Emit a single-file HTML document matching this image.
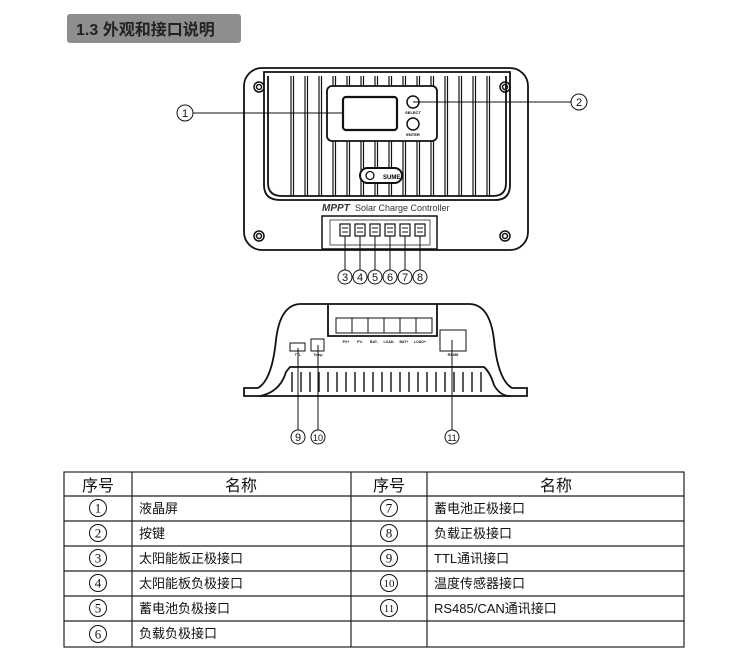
<!DOCTYPE html>
<html><head><meta charset="utf-8"><style>
html,body{margin:0;padding:0;background:#fff;width:749px;height:665px;overflow:hidden}
svg{display:block}
text{font-family:"Liberation Sans","Noto Sans CJK SC",sans-serif}
</style></head><body>
<svg width="749" height="665" viewBox="0 0 749 665" xmlns="http://www.w3.org/2000/svg">
<rect x="67" y="14" width="174" height="29" rx="3" fill="#8e8e90"/>
<text x="76" y="35" font-size="16" font-weight="bold" fill="#222">1.3 外观和接口说明</text>

<!-- front view -->
<g fill="none" stroke="#111" stroke-width="1.8">
<rect x="244" y="68" width="284" height="182" rx="18"/>
<path d="M264 72 L264 185 Q264 200 280 200 L495 200 Q510 200 510 185 L510 72 Z"/>
<path d="M268 76 L268 183 Q268 196 282 196 L493 196 Q506 196 506 183 L506 76"/>
</g>
<g stroke="#111" stroke-width="1.2" id="fins">
<line x1="291" y1="76" x2="291" y2="196"/><line x1="293.5" y1="76" x2="293.5" y2="196"/>
<line x1="305" y1="76" x2="305" y2="196"/><line x1="307.5" y1="76" x2="307.5" y2="196"/>
<line x1="319" y1="76" x2="319" y2="196"/><line x1="321.5" y1="76" x2="321.5" y2="196"/>
<line x1="333" y1="76" x2="333" y2="196"/><line x1="335.5" y1="76" x2="335.5" y2="196"/>
<line x1="347" y1="76" x2="347" y2="196"/><line x1="349.5" y1="76" x2="349.5" y2="196"/>
<line x1="361" y1="76" x2="361" y2="196"/><line x1="363.5" y1="76" x2="363.5" y2="196"/>
<line x1="375" y1="76" x2="375" y2="196"/><line x1="377.5" y1="76" x2="377.5" y2="196"/>
<line x1="389" y1="76" x2="389" y2="196"/><line x1="391.5" y1="76" x2="391.5" y2="196"/>
<line x1="403" y1="76" x2="403" y2="196"/><line x1="405.5" y1="76" x2="405.5" y2="196"/>
<line x1="417" y1="76" x2="417" y2="196"/><line x1="419.5" y1="76" x2="419.5" y2="196"/>
<line x1="431" y1="76" x2="431" y2="196"/><line x1="433.5" y1="76" x2="433.5" y2="196"/>
<line x1="445" y1="76" x2="445" y2="196"/><line x1="447.5" y1="76" x2="447.5" y2="196"/>
<line x1="459" y1="76" x2="459" y2="196"/><line x1="461.5" y1="76" x2="461.5" y2="196"/>
<line x1="473" y1="76" x2="473" y2="196"/><line x1="475.5" y1="76" x2="475.5" y2="196"/>
<line x1="487" y1="76" x2="487" y2="196"/><line x1="489.5" y1="76" x2="489.5" y2="196"/>
</g>
<rect x="327" y="86" width="110" height="55" rx="5" fill="#fff" stroke="#111" stroke-width="1.8"/>
<rect x="343" y="97" width="54" height="33" rx="3" fill="#fff" stroke="#111" stroke-width="2.2"/>
<circle cx="413" cy="102" r="6" fill="#fff" stroke="#111" stroke-width="1.5"/>
<circle cx="413" cy="124" r="6" fill="#fff" stroke="#111" stroke-width="1.5"/>
<text x="413" y="114" font-size="4" text-anchor="middle" font-weight="bold">SELECT</text>
<text x="413" y="136" font-size="4" text-anchor="middle" font-weight="bold">ENTER</text>
<rect x="360" y="168" width="42" height="15" rx="7.5" fill="#fff" stroke="#111" stroke-width="2"/>
<text x="383" y="179" font-size="6" font-weight="bold">SUME</text>
<circle cx="370" cy="175.5" r="4" fill="none" stroke="#111" stroke-width="1.3"/>
<text x="322" y="211" font-size="10" font-style="italic" font-weight="bold" fill="#333">MPPT</text>
<text x="355" y="211" font-size="9" fill="#333">Solar Charge Controller</text>
<g fill="none" stroke="#111" stroke-width="1.5">
<circle cx="259" cy="87" r="5"/><circle cx="259" cy="87" r="2.5"/>
<circle cx="505" cy="87" r="5"/><circle cx="505" cy="87" r="2.5"/>
<circle cx="259" cy="236" r="5"/><circle cx="259" cy="236" r="2.5"/>
<circle cx="505" cy="236" r="5"/><circle cx="505" cy="236" r="2.5"/>
</g>
<rect x="322" y="216" width="115" height="33" fill="#fff" stroke="#111" stroke-width="1.5"/>
<rect x="330" y="220" width="100" height="25" fill="none" stroke="#555" stroke-width="1"/>
<g fill="#fff" stroke="#111" stroke-width="1.2">
<rect x="340" y="224" width="10" height="12"/><rect x="355" y="224" width="10" height="12"/>
<rect x="370" y="224" width="10" height="12"/><rect x="385" y="224" width="10" height="12"/>
<rect x="400" y="224" width="10" height="12"/><rect x="415" y="224" width="10" height="12"/>
</g>
<g stroke="#111" stroke-width="1">
<line x1="342" y1="228" x2="348" y2="228"/><line x1="342" y1="232" x2="348" y2="232"/>
<line x1="357" y1="228" x2="363" y2="228"/><line x1="357" y1="232" x2="363" y2="232"/>
<line x1="372" y1="228" x2="378" y2="228"/><line x1="372" y1="232" x2="378" y2="232"/>
<line x1="387" y1="228" x2="393" y2="228"/><line x1="387" y1="232" x2="393" y2="232"/>
<line x1="402" y1="228" x2="408" y2="228"/><line x1="402" y1="232" x2="408" y2="232"/>
<line x1="417" y1="228" x2="423" y2="228"/><line x1="417" y1="232" x2="423" y2="232"/>
<line x1="345" y1="236" x2="345" y2="270"/><line x1="360" y1="236" x2="360" y2="270"/>
<line x1="375" y1="236" x2="375" y2="270"/><line x1="390" y1="236" x2="390" y2="270"/>
<line x1="405" y1="236" x2="405" y2="270"/><line x1="420" y1="236" x2="420" y2="270"/>
<line x1="193" y1="113" x2="343" y2="113"/>
<line x1="413" y1="102" x2="571" y2="102"/>
</g>
<g fill="#fff" stroke="#111" stroke-width="1">
<circle cx="185" cy="113" r="8"/><circle cx="579" cy="102" r="8"/>
<circle cx="345" cy="277" r="7"/><circle cx="360" cy="277" r="7"/><circle cx="375" cy="277" r="7"/>
<circle cx="390" cy="277" r="7"/><circle cx="405" cy="277" r="7"/><circle cx="420" cy="277" r="7"/>
<circle cx="298" cy="437" r="7"/><circle cx="318" cy="437" r="7"/><circle cx="452" cy="437" r="7"/>
</g>
<g font-size="11" text-anchor="middle" fill="#111">
<text x="185" y="117">1</text><text x="579" y="106">2</text>
<text x="345" y="281">3</text><text x="360" y="281">4</text><text x="375" y="281">5</text>
<text x="390" y="281">6</text><text x="405" y="281">7</text><text x="420" y="281">8</text>
<text x="298" y="441">9</text><text x="318" y="441" font-size="9">10</text><text x="452" y="441" font-size="9">11</text>
</g>

<!-- bottom view -->
<g fill="none" stroke="#111" stroke-width="1.8">
<path d="M244 396 L244 388 L258 388 Q272 380 276 340 Q280 305 300 304 L470 304 Q490 305 494 340 Q498 380 512 388 L527 388 L527 396 Z"/>
<path d="M260 396 Q280 392 286 372 L290 367 L484 367 Q490 372 494 385 Q500 396 510 396"/>
<path d="M328 304 L328 336 L437 336 L437 304"/>
</g>
<g fill="none" stroke="#111" stroke-width="1">
<rect x="336" y="318" width="16" height="15"/><rect x="352" y="318" width="16" height="15"/>
<rect x="368" y="318" width="16" height="15"/><rect x="384" y="318" width="16" height="15"/>
<rect x="400" y="318" width="16" height="15"/><rect x="416" y="318" width="16" height="15"/>
<rect x="290" y="343" width="15" height="8"/><rect x="311" y="339" width="13" height="12"/>
<rect x="440" y="330" width="26" height="21"/>
</g>
<g font-size="3.5" fill="#111" font-weight="bold" text-anchor="middle">
<text x="346" y="343">PV+</text><text x="360" y="343">PV-</text><text x="374" y="343">BAT-</text>
<text x="389" y="343">LOAD-</text><text x="404" y="343">BAT+</text><text x="420" y="343">LOAD+</text>
<text x="298" y="356">TTL</text><text x="318" y="356">Temp</text><text x="453" y="356">RS485</text>
</g>
<g stroke="#111" stroke-width="1.4">
<line x1="292" y1="372" x2="292" y2="392"/><line x1="301" y1="372" x2="301" y2="392"/>
<line x1="310" y1="372" x2="310" y2="392"/><line x1="319" y1="372" x2="319" y2="392"/>
<line x1="328" y1="372" x2="328" y2="392"/><line x1="337" y1="372" x2="337" y2="392"/>
<line x1="346" y1="372" x2="346" y2="392"/><line x1="355" y1="372" x2="355" y2="392"/>
<line x1="364" y1="372" x2="364" y2="392"/><line x1="373" y1="372" x2="373" y2="392"/>
<line x1="382" y1="372" x2="382" y2="392"/><line x1="391" y1="372" x2="391" y2="392"/>
<line x1="400" y1="372" x2="400" y2="392"/><line x1="409" y1="372" x2="409" y2="392"/>
<line x1="418" y1="372" x2="418" y2="392"/><line x1="427" y1="372" x2="427" y2="392"/>
<line x1="436" y1="372" x2="436" y2="392"/><line x1="445" y1="372" x2="445" y2="392"/>
<line x1="454" y1="372" x2="454" y2="392"/><line x1="463" y1="372" x2="463" y2="392"/>
<line x1="472" y1="372" x2="472" y2="392"/><line x1="481" y1="372" x2="481" y2="392"/>
</g>
<g stroke="#111" stroke-width="1">
<line x1="298" y1="348" x2="298" y2="430"/><line x1="318" y1="345" x2="318" y2="430"/>
<line x1="452" y1="340" x2="452" y2="430"/>
</g>

<!-- table -->
<g stroke="#222" stroke-width="1.2" fill="none">
<rect x="64" y="472" width="620" height="175"/>
<line x1="64" y1="496" x2="684" y2="496"/><line x1="64" y1="521" x2="684" y2="521"/>
<line x1="64" y1="546" x2="684" y2="546"/><line x1="64" y1="571" x2="684" y2="571"/>
<line x1="64" y1="596" x2="684" y2="596"/><line x1="64" y1="621" x2="684" y2="621"/>
<line x1="132" y1="472" x2="132" y2="647"/><line x1="351" y1="472" x2="351" y2="647"/>
<line x1="427" y1="472" x2="427" y2="647"/>
</g>
<g font-size="16" text-anchor="middle" fill="#111">
<text x="98" y="491">序号</text><text x="241" y="491">名称</text>
<text x="389" y="491">序号</text><text x="556" y="491">名称</text>
</g>
<g fill="none" stroke="#111" stroke-width="1">
<circle cx="98" cy="508" r="8.5"/><circle cx="98" cy="533" r="8.5"/><circle cx="98" cy="558" r="8.5"/>
<circle cx="98" cy="583" r="8.5"/><circle cx="98" cy="608" r="8.5"/><circle cx="98" cy="634" r="8.5"/>
<circle cx="389" cy="508" r="8.5"/><circle cx="389" cy="533" r="8.5"/><circle cx="389" cy="558" r="8.5"/>
<circle cx="389" cy="583" r="8.5"/><circle cx="389" cy="608" r="8.5"/>
</g>
<g font-size="13" text-anchor="middle" fill="#111" style="font-family:'Liberation Serif',serif">
<text x="98" y="512.5" style="font-family:'Liberation Serif',serif">1</text><text x="98" y="537.5" style="font-family:'Liberation Serif',serif">2</text>
<text x="98" y="562.5" style="font-family:'Liberation Serif',serif">3</text><text x="98" y="587.5" style="font-family:'Liberation Serif',serif">4</text>
<text x="98" y="612.5" style="font-family:'Liberation Serif',serif">5</text><text x="98" y="638.5" style="font-family:'Liberation Serif',serif">6</text>
<text x="389" y="512.5" style="font-family:'Liberation Serif',serif">7</text><text x="389" y="537.5" style="font-family:'Liberation Serif',serif">8</text>
<text x="389" y="562.5" style="font-family:'Liberation Serif',serif">9</text><text x="389" y="587" font-size="11" style="font-family:'Liberation Serif',serif">10</text>
<text x="389" y="612" font-size="11" style="font-family:'Liberation Serif',serif">11</text>
</g>
<g font-size="13" fill="#111">
<text x="139" y="513">液晶屏</text><text x="139" y="538">按键</text>
<text x="139" y="563">太阳能板正极接口</text><text x="139" y="588">太阳能板负极接口</text>
<text x="139" y="613">蓄电池负极接口</text><text x="139" y="638">负载负极接口</text>
<text x="434" y="513">蓄电池正极接口</text><text x="434" y="538">负载正极接口</text>
<text x="434" y="563">TTL通讯接口</text><text x="434" y="588">温度传感器接口</text>
<text x="434" y="613">RS485/CAN通讯接口</text>
</g>
</svg>
</body></html>
